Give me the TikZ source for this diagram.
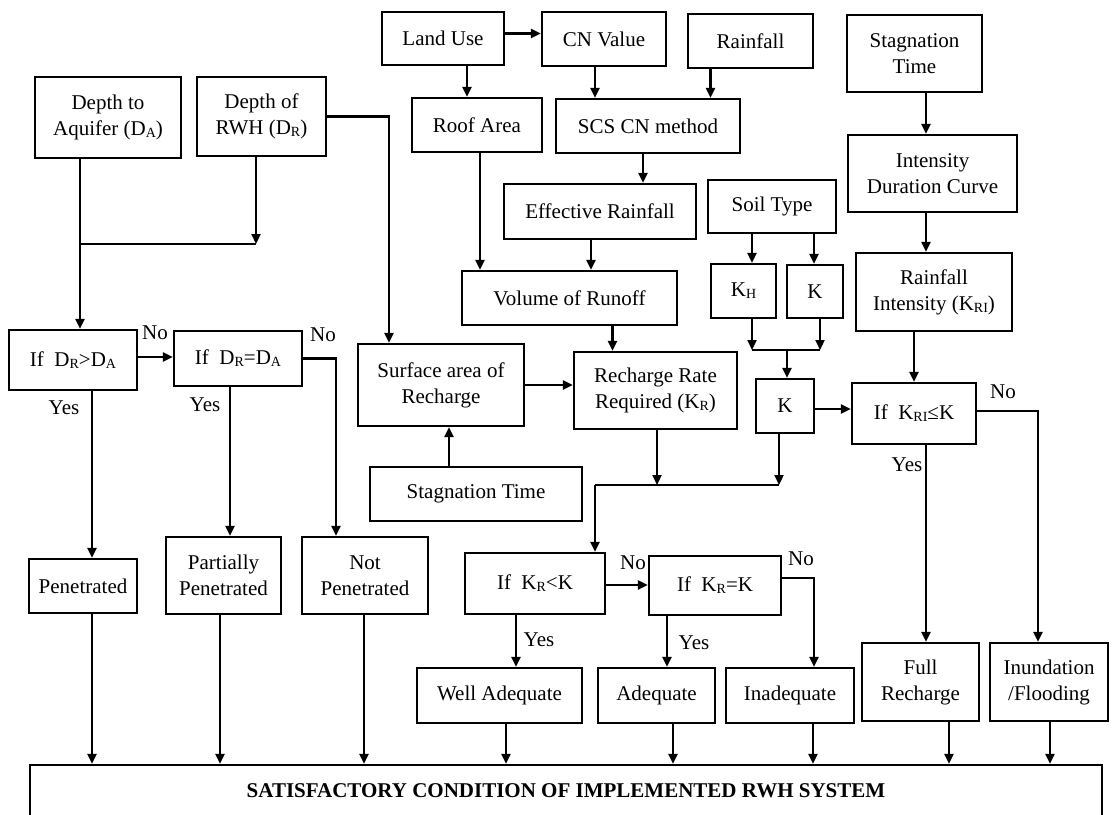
\documentclass[tikz,border=0pt]{standalone}
\usepackage{fontspec}
\setmainfont{Liberation Serif}
\usepackage{tikz}
\usetikzlibrary{arrows.meta, calc}
\newcommand{\lsub}[1]{\raisebox{-0.2ex}{\fontsize{14}{14}\selectfont #1}}

\begin{document}
\begin{tikzpicture}[x=1pt, y=-1pt,
  blk/.style={draw, line width=2.2pt, align=center, inner sep=2pt, font=\fontsize{21}{26}\selectfont},
  arr/.style={line width=2.2pt, -{Triangle[length=10pt, width=9pt]}},
  lin/.style={line width=2.2pt},
  lbl/.style={inner sep=0pt, font=\fontsize{21}{26}\selectfont}]
\useasboundingbox (0,0) rectangle (1113,814);

% Depth boxes
\node[blk, minimum width=146pt, minimum height=81pt] (da) at (108,117.5) {Depth to\\Aquifer (D\lsub{A})};
\node[blk, minimum width=129pt, minimum height=79pt] (dr) at (261.5,116.5) {Depth of\\RWH (D\lsub{R})};

% Runoff chain
\node[blk, minimum width=122pt, minimum height=53pt] (land) at (443,38.5) {Land Use};
\node[blk, minimum width=124pt, minimum height=54pt] (cn) at (604,39) {CN Value};
\node[blk, minimum width=125pt, minimum height=54pt] (rain) at (750.5,41) {Rainfall};
\node[blk, minimum width=130pt, minimum height=54pt] (roof) at (477,125) {Roof Area};
\node[blk, minimum width=184pt, minimum height=54pt] (scs) at (648,126) {SCS CN method};
\node[blk, minimum width=192pt, minimum height=55pt] (eff) at (600,211.5) {Effective Rainfall};
\node[blk, minimum width=215pt, minimum height=54pt] (vol) at (569.5,298) {Volume of Runoff};

% Soil
\node[blk, minimum width=128pt, minimum height=53pt] (soil) at (772,206.5) {Soil Type};
\node[blk, minimum width=65pt, minimum height=54pt] (kh) at (743.5,291) {K\lsub{H}};
\node[blk, minimum width=56pt, minimum height=53pt] (ksoil) at (815,291.5) {K};
\node[blk, minimum width=58pt, minimum height=54pt] (k) at (785,406) {K};

% Rainfall intensity
\node[blk, minimum width=135pt, minimum height=77pt] (stagtop) at (914.5,53.5) {Stagnation\\Time};
\node[blk, minimum width=169pt, minimum height=77pt] (idc) at (932.5,173.5) {Intensity\\Duration Curve};
\node[blk, minimum width=156pt, minimum height=78pt] (rint) at (934,292) {Rainfall\\Intensity (K\lsub{RI})};

% Recharge
\node[blk, minimum width=166pt, minimum height=82pt] (surf) at (441,385) {Surface area of\\Recharge};
\node[blk, minimum width=163pt, minimum height=77pt] (rrate) at (655.5,390.5) {Recharge Rate\\Required (K\lsub{R})};
\node[blk, minimum width=212pt, minimum height=54pt] (stag) at (476,494) {Stagnation Time};

% Decisions
\node[blk, minimum width=128pt, minimum height=60pt] (if1) at (73,360) {If\ \ D\lsub{R}>D\lsub{A}};
\node[blk, minimum width=128pt, minimum height=55pt] (if2) at (238,358.5) {If\ \ D\lsub{R}=D\lsub{A}};
\node[blk, minimum width=140pt, minimum height=61pt] (if3) at (535,583.5) {If\ \ K\lsub{R}<K};
\node[blk, minimum width=132pt, minimum height=59pt] (if4) at (715,585.5) {If\ \ K\lsub{R}=K};
\node[blk, minimum width=124pt, minimum height=61pt] (ifkri) at (914,413.5) {If\ \ K\lsub{RI}≤K};

% Outcomes
\node[blk, minimum width=108pt, minimum height=54pt] (pen) at (83,586) {Penetrated};
\node[blk, minimum width=115pt, minimum height=77pt] (ppen) at (223.5,575.5) {Partially\\Penetrated};
\node[blk, minimum width=126pt, minimum height=77pt] (npen) at (365,575.5) {Not\\Penetrated};
\node[blk, minimum width=165pt, minimum height=55pt] (well) at (499.5,695.5) {Well Adequate};
\node[blk, minimum width=117pt, minimum height=55pt] (adeq) at (656.5,695.5) {Adequate};
\node[blk, minimum width=128pt, minimum height=55pt] (inad) at (790,695.5) {Inadequate};
\node[blk, minimum width=117pt, minimum height=78pt] (full) at (920.5,682) {Full\\Recharge};
\node[blk, minimum width=118pt, minimum height=78pt] (inun) at (1049,682) {Inundation\\/Flooding};
\node[blk, minimum width=1072pt, minimum height=52pt, font=\bfseries\fontsize{21}{26}\selectfont] (sat) at (566,791) {SATISFACTORY CONDITION OF IMPLEMENTED RWH SYSTEM};

% Yes / No
\node[lbl] (no1) at (155,333) {No};
\node[lbl] (no2) at (323,335) {No};
\node[lbl] (yes1) at (64,408) {Yes};
\node[lbl] (yes2) at (205,405) {Yes};
\node[lbl] (no3) at (633,563) {No};
\node[lbl] (no4) at (801,559) {No};
\node[lbl] (yes3) at (539,640) {Yes};
\node[lbl] (yes4) at (694,643) {Yes};
\node[lbl] (no5) at (1003,392) {No};
\node[lbl] (yes5) at (907,465) {Yes};

% Arrows - top
\draw[arr] ($(land.east)+(0,-5)$) coordinate (a0) -- (a0 -| cn.west);
\draw[arr] ($(land.south)+(24,0)$) coordinate (p1) -- (p1 |- roof.north);
\draw[arr] ($(cn.south)+(-9,0)$) coordinate (p2) -- (p2 |- scs.north);
\draw[arr] ($(rain.south)+(-40,0)$) coordinate (p3) -- (p3 |- scs.north);
\draw[arr] ($(scs.south)+(-5,0)$) coordinate (p4) -- (p4 |- eff.north);
\draw[arr] ($(roof.south)+(3,0)$) coordinate (p5) -- (p5 |- vol.north);
\draw[arr] ($(eff.south)+(-9,0)$) coordinate (p6) -- (p6 |- vol.north);
\draw[arr] ($(vol.south)+(43,0)$) coordinate (p7) -- (p7 |- rrate.north);
\draw[arr] ($(soil.south)+(-20,0)$) coordinate (p8) -- (p8 |- kh.north);
\draw[arr] ($(soil.south)+(42,0)$) coordinate (p9) -- (p9 |- ksoil.north);

% K junction
\coordinate (jk) at (787,350);
\draw[arr] ($(kh.south)+(8.5,0)$) coordinate (p10) -- (p10 |- jk);
\draw[arr] ($(ksoil.south)+(5,0)$) coordinate (p11) -- (p11 |- jk);
\draw[lin] (p10 |- jk) -- (p11 |- jk);
\draw[arr] (jk) -- (jk |- k.north);
\draw[arr] ($(k.east)+(0,3)$) coordinate (p12) -- (p12 -| ifkri.west);

% Recharge rate vs K
\coordinate (jr) at (595,485);
\draw[arr] ($(rrate.south)+(1.5,0)$) coordinate (p13) -- (p13 |- jr);
\draw[arr] ($(k.south)+(-6,0)$) coordinate (p14) -- (p14 |- jr);
\draw[lin] (jr) -- (p14 |- jr);
\draw[arr] (jr) -- (jr |- if3.north);
\draw[arr] ($(if3.east)+(0,1.5)$) coordinate (p15) -- (p15 -| if4.west);
\draw[arr] ($(if4.east)+(0,-7.5)$) -| ($(inad.north)+(24,0)$);
\draw[arr] ($(if3.south)+(-19,0)$) coordinate (p16) -- (p16 |- well.north);
\draw[arr] ($(if4.south)+(-48,0)$) coordinate (p17) -- (p17 |- adeq.north);

% Right column
\draw[arr] ($(stagtop.south)+(11.5,0)$) coordinate (p18) -- (p18 |- idc.north);
\draw[arr] ($(idc.south)+(-6.5,0)$) coordinate (p19) -- (p19 |- rint.north);
\draw[arr] (rint.south -| ifkri.north) -- (ifkri.north);
\draw[arr] ($(ifkri.south)+(12,0)$) coordinate (p20) -- (p20 |- full.north);
\draw[arr] ($(ifkri.east)+(0,-2.5)$) -| ($(inun.north)+(-11,0)$);

% Left side
\draw[arr] ($(da.south)+(-28,0)$) coordinate (p21) -- (p21 |- if1.north);
\coordinate (jd) at (256,244);
\draw[arr] ($(dr.south)+(-5.5,0)$) coordinate (p22) -- (p22 |- jd);
\draw[lin] (p21 |- jd) -- (p22 |- jd);
\draw[arr] (dr.east) -| ($(surf.north)+(-52,0)$);
\draw[arr] ($(if1.east)+(0,-3)$) coordinate (p23) -- (p23 -| if2.west);
\draw[arr] (if2.east) -| ($(npen.north)+(-29,0)$);
\draw[arr] ($(if1.south)+(19,0)$) coordinate (p24) -- (p24 |- pen.north);
\draw[arr] ($(if2.south)+(-8,0)$) coordinate (p25) -- (p25 |- ppen.north);
\draw[arr] (surf.east) -- (surf.east -| rrate.west);
\draw[arr] ($(stag.north)+(-27,0)$) coordinate (p26) -- (p26 |- surf.south);

% Into the result box
\draw[arr] ($(pen.south)+(9,0)$) coordinate (b1) -- (b1 |- sat.north);
\draw[arr] ($(ppen.south)+(-3.5,0)$) coordinate (b2) -- (b2 |- sat.north);
\draw[arr] ($(npen.south)+(-1,0)$) coordinate (b3) -- (b3 |- sat.north);
\draw[arr] ($(well.south)+(6.5,0)$) coordinate (b4) -- (b4 |- sat.north);
\draw[arr] ($(adeq.south)+(16.5,0)$) coordinate (b5) -- (b5 |- sat.north);
\draw[arr] ($(inad.south)+(23,0)$) coordinate (b6) -- (b6 |- sat.north);
\draw[arr] ($(full.south)+(28.5,0)$) coordinate (b7) -- (b7 |- sat.north);
\draw[arr] ($(inun.south)+(1,0)$) coordinate (b8) -- (b8 |- sat.north);
\end{tikzpicture}
\end{document}
